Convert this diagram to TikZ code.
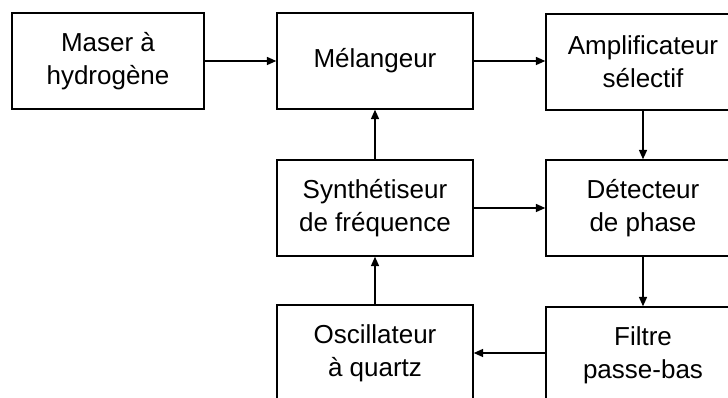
\documentclass[tikz,border=0pt]{standalone}
\usepackage{fontspec}
\setmainfont{Liberation Sans}
\usetikzlibrary{arrows.meta}
\begin{document}
\begin{tikzpicture}[x=0.75pt,y=-0.75pt,
  blockbox/.style={draw=black, line width=1.1pt, fill=white, minimum height=72pt, align=center,
    font=\fontsize{19.5}{24.5}\selectfont, inner sep=0pt},
  link/.style={line width=1.1pt, -{Triangle[length=7pt,width=6pt]}}]
\useasboundingbox (0,0) rectangle (728,398);
\node[blockbox, minimum width=144pt] (maser) at (108,61) {Maser à\\hydrogène};
\node[blockbox, minimum width=147pt] (mel) at (375,61) {Mélangeur};
\node[blockbox, minimum width=145.5pt] (amp) at (643,62) {Amplificateur\\sélectif};
\node[blockbox, minimum width=147pt] (syn) at (375,208) {Synthétiseur\\de fréquence};
\node[blockbox, minimum width=145.5pt] (det) at (643,208) {Détecteur\\de phase};
\node[blockbox, minimum width=147pt] (osc) at (375,353) {Oscillateur\\à quartz};
\node[blockbox, minimum width=145.5pt] (fil) at (643,355) {Filtre\\passe-bas};
\draw[link] (maser.east) -- (maser.east -| mel.west);
\draw[link] (mel.east) -- (mel.east -| amp.west);
\draw[link] (amp.south) -- (det.north);
\draw[link] (syn.north) -- (mel.south);
\draw[link] (syn.east) -- (syn.east -| det.west);
\draw[link] (osc.north) -- (syn.south);
\draw[link] (det.south) -- (fil.north);
\draw[link] (fil.west |- osc.east) -- (osc.east);
\end{tikzpicture}
\end{document}
